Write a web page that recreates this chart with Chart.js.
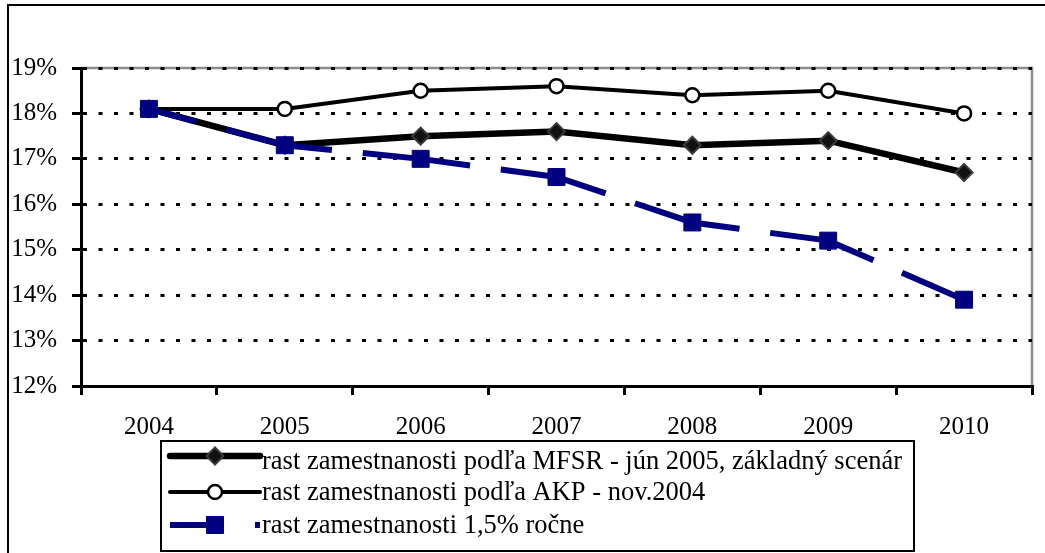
<!DOCTYPE html>
<html><head><meta charset="utf-8">
<script src="https://cdn.jsdelivr.net/npm/chart.js@4/dist/chart.umd.min.js"></script>
<style>html,body{margin:0;padding:0;background:#fff;} canvas{display:block;}</style>
</head><body>
<canvas id="c" width="1045" height="553"></canvas>
<script>
const categories = ['2004', '2005', '2006', '2007', '2008', '2009', '2010'];
const mfsrValues = [18.1, 17.3, 17.5, 17.6, 17.3, 17.4, 16.7];
const akpValues = [18.1, 18.1, 18.5, 18.6, 18.4, 18.5, 18.0];
const rast15Values = [18.1, 17.3, 17.0, 16.6, 15.6, 15.2, 13.9];
const seriesLabels = [
  'rast zamestnanosti podľa MFSR - jún 2005, základný scenár',
  'rast zamestnanosti podľa AKP - nov.2004',
  'rast zamestnanosti 1,5% ročne'
];
const yTickValues = [12, 13, 14, 15, 16, 17, 18, 19];

const FONT = "'Liberation Serif', 'Times New Roman', serif";
Chart.defaults.font.family = FONT;
Chart.defaults.font.size = 25;
Chart.defaults.color = '#000';

const framePlugin = {
  id: 'frame',
  beforeDraw(chart) {
    const ctx = chart.ctx, a = chart.chartArea;
    ctx.save();
    ctx.fillStyle = '#fff';
    ctx.fillRect(0, 0, chart.width, chart.height);
    ctx.strokeStyle = '#000';
    ctx.lineWidth = 2;
    ctx.beginPath();
    ctx.moveTo(8, chart.height + 2);
    ctx.lineTo(8, 5);
    ctx.lineTo(chart.width + 2, 5);
    ctx.stroke();
    ctx.strokeStyle = '#8c8c8c';
    ctx.lineWidth = 2.5;
    ctx.beginPath();
    ctx.moveTo(a.left, a.top);
    ctx.lineTo(a.right, a.top);
    ctx.lineTo(a.right, a.bottom);
    ctx.stroke();
    ctx.restore();
  }
};

const legendPlugin = {
  id: 'customLegend',
  afterDraw(chart) {
    const ctx = chart.ctx;
    const box = {x: 161, y: 441, w: 753, h: 110};
    ctx.save();
    ctx.fillStyle = '#fff';
    ctx.fillRect(box.x, box.y, box.w, box.h);
    ctx.strokeStyle = '#000';
    ctx.lineWidth = 2;
    ctx.strokeRect(box.x, box.y, box.w, box.h);
    const rowsY = [456, 492, 525];
    const textBase = [469, 500, 533];
    const x0 = 170, x1 = 260, xm = 215;
    chart.data.datasets.forEach((ds, i) => {
      const y = rowsY[i];
      ctx.save();
      ctx.strokeStyle = ds.borderColor;
      ctx.lineWidth = ds.borderWidth;
      if (ds.borderDash && ds.borderDash.length) {
        ctx.lineCap = 'butt';
        ctx.setLineDash([54, 31]);
      } else {
        ctx.lineCap = 'round';
      }
      ctx.beginPath();
      ctx.moveTo(x0, y);
      ctx.lineTo(x1, y);
      ctx.stroke();
      ctx.restore();
      ctx.save();
      ctx.fillStyle = ds.pointBackgroundColor;
      ctx.strokeStyle = ds.pointBorderColor;
      ctx.lineWidth = ds.pointBorderWidth;
      Chart.helpers.drawPoint(ctx, {pointStyle: ds.pointStyle, radius: ds.pointRadius, borderWidth: ds.pointBorderWidth}, xm, y);
      ctx.restore();
      ctx.fillStyle = '#000';
      ctx.font = '26.5px ' + FONT;
      ctx.textBaseline = 'alphabetic';
      ctx.textAlign = 'left';
      ctx.fillText(ds.label, 262, textBase[i]);
    });
    ctx.restore();
  }
};

new Chart(document.getElementById('c'), {
  type: 'line',
  data: {
    labels: categories,
    datasets: [
      {
        label: seriesLabels[0],
        data: mfsrValues,
        borderColor: '#000',
        borderWidth: 6.5,
        pointStyle: 'rectRot',
        pointRadius: 8.5,
        pointBackgroundColor: '#111',
        pointBorderColor: '#3a3a3a',
        pointBorderWidth: 2,
        tension: 0,
        order: 3
      },
      {
        label: seriesLabels[1],
        data: akpValues,
        borderColor: '#000',
        borderWidth: 4,
        pointStyle: 'circle',
        pointRadius: 7,
        pointBackgroundColor: '#fff',
        pointBorderColor: '#000',
        pointBorderWidth: 2.5,
        tension: 0,
        order: 2
      },
      {
        label: seriesLabels[2],
        data: rast15Values,
        borderColor: '#000080',
        borderWidth: 6,
        borderDash: [108, 31],
        borderDashOffset: 59,
        pointStyle: 'rect',
        pointRadius: 12,
        pointBackgroundColor: '#000080',
        pointBorderColor: '#000080',
        pointBorderWidth: 1,
        tension: 0,
        order: 1
      }
    ]
  },
  options: {
    responsive: false,
    animation: false,
    events: [],
    layout: {padding: {left: 0, top: 68, right: 13, bottom: 0}},
    plugins: {legend: {display: false}, tooltip: {enabled: false}, title: {display: false}},
    scales: {
      x: {
        offset: true,
        grid: {
          offset: true,
          drawOnChartArea: false,
          drawTicks: true,
          tickLength: 9,
          color: '#000',
          lineWidth: 3
        },
        border: {display: true, color: '#000', width: 3},
        ticks: {padding: 17, maxRotation: 0, autoSkip: false, color: '#000', font: {size: 25}},
        afterFit(scale) { scale.height = 167; }
      },
      y: {
        min: yTickValues[0],
        max: yTickValues[yTickValues.length - 1],
        afterBuildTicks(scale) { scale.ticks = yTickValues.map(v => ({value: v})); },
        grid: {
          color: '#000',
          lineWidth: 3,
          drawTicks: true,
          tickLength: 9,
          tickColor: '#000',
          tickWidth: 3,
          tickBorderDash: []
        },
        border: {display: true, color: '#000', width: 3, dash: [4, 11.5]},
        ticks: {padding: 15, color: '#000', font: {size: 25}, callback: v => v + '%'},
        afterFit(scale) { scale.width = 81; }
      }
    }
  },
  plugins: [framePlugin, legendPlugin]
});
</script>
</body></html>
